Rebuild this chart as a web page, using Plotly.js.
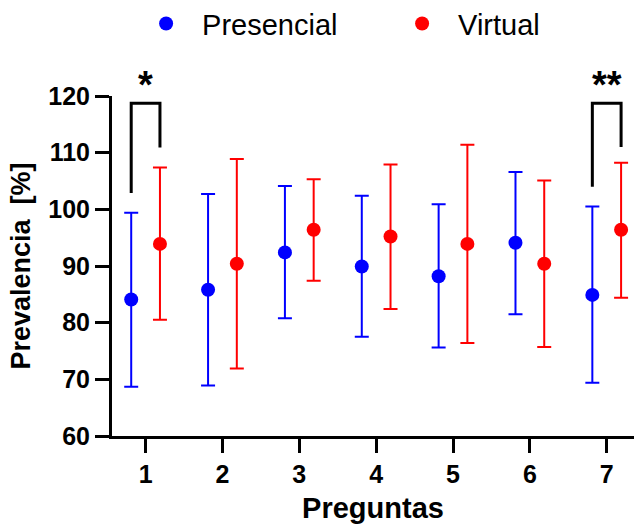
<!DOCTYPE html>
<html>
<head>
<meta charset="utf-8">
<script src="https://cdn.plot.ly/plotly-3.0.1.min.js"></script>
<style>html,body{margin:0;padding:0;background:#fff}#chart{width:634px;height:524px}</style>
</head>
<body>
<div id="chart"></div>
<script>
const questions = [1, 2, 3, 4, 5, 6, 7];
const tickLabels = ['1', '2', '3', '4', '5', '6', '7'];
const presencialMean  = [84.1, 85.8, 92.4, 89.9, 88.2, 94.1, 84.9];
const presencialUpper = [99.4, 102.7, 104.1, 102.4, 100.9, 106.6, 100.5];
const presencialLower = [68.7, 68.9, 80.8, 77.5, 75.6, 81.5, 69.4];
const virtualMean  = [93.9, 90.4, 96.4, 95.2, 93.9, 90.4, 96.4];
const virtualUpper = [107.4, 108.9, 105.3, 107.9, 111.4, 105.1, 108.2];
const virtualLower = [80.5, 71.9, 87.4, 82.4, 76.4, 75.7, 84.4];
const sigQuestions = [1, 7];
const sigLabels = ['*', '**'];
const bracketLeftY = [102.9, 104.0];
const bracketTopY = [118.7, 118.7];
const bracketRightY = [110.9, 111.0];

const dodge = 0.187;
const FONT = '"Liberation Sans", Arial, sans-serif';

function errTrace(name, color, mean, upper, lower, sign) {
  return {
    type: 'scatter', mode: 'markers', name: name,
    x: questions.map(q => q + sign * dodge),
    y: mean,
    marker: {color: color, size: 14},
    error_y: {
      type: 'data', symmetric: false,
      array: upper.map((u, i) => u - mean[i]),
      arrayminus: lower.map((l, i) => mean[i] - l),
      color: color, thickness: 2, width: 7
    },
    cliponaxis: false
  };
}

const traces = [
  errTrace('Presencial', '#0000ff', presencialMean, presencialUpper, presencialLower, -1),
  errTrace('Virtual', '#ff0000', virtualMean, virtualUpper, virtualLower, 1)
];

sigQuestions.forEach((q, i) => {
  traces.push({
    type: 'scatter', mode: 'lines', showlegend: false, hoverinfo: 'skip',
    x: [q - dodge, q - dodge, q + dodge, q + dodge],
    y: [bracketLeftY[i], bracketTopY[i], bracketTopY[i], bracketRightY[i]],
    line: {color: '#000', width: 3},
    cliponaxis: false
  });
});

const annotations = sigQuestions.map((q, i) => ({
  x: q, y: bracketTopY[i], xref: 'x', yref: 'y',
  text: '<b>' + sigLabels[i] + '</b>', showarrow: false,
  yanchor: 'bottom', yshift: -5,
  font: {family: FONT, size: 38, color: '#000'}
}));

const layout = {
  width: 634, height: 524,
  margin: {l: 112, r: 0, t: 96, b: 88},
  paper_bgcolor: '#fff', plot_bgcolor: '#fff',
  font: {family: FONT, color: '#000'},
  showlegend: true,
  legend: {
    orientation: 'h', xref: 'container', yref: 'container',
    x: 0.609, xanchor: 'center', y: 0.955, yanchor: 'middle',
    font: {family: FONT, size: 29, color: '#000'},
    itemwidth: 62, entrywidth: 179
  },
  xaxis: {
    range: [0.563, 7.355], tickmode: 'array', tickvals: questions, ticktext: tickLabels,
    showgrid: false, zeroline: false, showline: true, linecolor: '#000', linewidth: 3,
    ticks: 'outside', ticklen: 14, tickwidth: 3, tickcolor: '#000',
    tickfont: {family: FONT, size: 25, color: '#000', weight: 'bold'},
    title: {text: '<b>Preguntas</b>', font: {family: FONT, size: 29, color: '#000'}, standoff: 24}
  },
  yaxis: {
    range: [60, 120], dtick: 10, tick0: 60,
    showgrid: false, zeroline: false, showline: true, linecolor: '#000', linewidth: 3,
    ticks: 'outside', ticklen: 14, tickwidth: 3, tickcolor: '#000',
    tickfont: {family: FONT, size: 25, color: '#000', weight: 'bold'},
    title: {text: '<b>Prevalencia  [%]</b>', font: {family: FONT, size: 27, color: '#000'}, standoff: 10}
  },
  annotations: annotations
};

Plotly.newPlot('chart', traces, layout, {displayModeBar: false, staticPlot: true});
</script>
</body>
</html>
